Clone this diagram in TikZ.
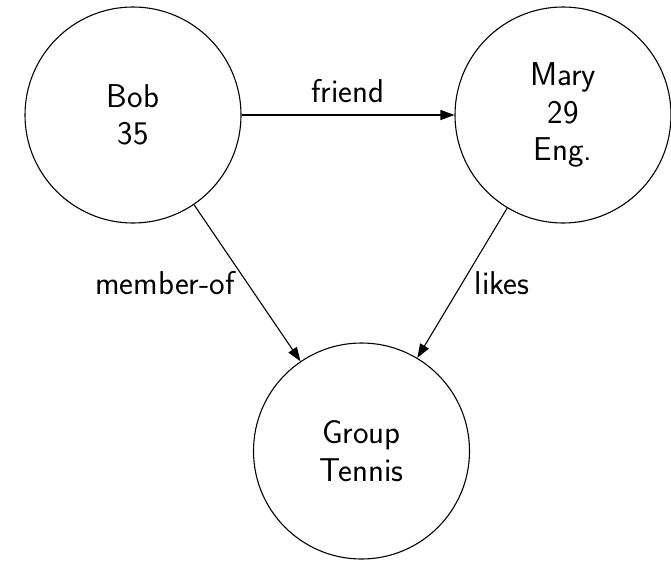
\documentclass[tikz,border=0pt]{standalone}
\usetikzlibrary{arrows.meta}
\begin{document}
\begin{tikzpicture}[x=1pt,y=-1pt,
  every node/.style={font=\sffamily\fontsize{33}{37.5}\selectfont},
  entity/.style={draw, circle, minimum size=216pt, inner sep=0pt, align=center, line width=1.1pt},
  rel/.style={line width=1.1pt, -{Triangle[length=14pt,width=10pt]}},
  lbl/.style={inner sep=12pt}]
  \useasboundingbox (0,0) rectangle (671,560);
  \node[entity] (bob) at (133,115) {Bob\\35};
  \node[entity] (mary) at (563,115) {Mary\\29\\Eng.};
  \node[entity] (group) at (361.5,451) {Group\\Tennis};
  \draw[rel] (bob) -- node[lbl, above] {friend} (mary);
  \draw[rel] (bob) -- node[lbl, left] {member-of} (group);
  \draw[rel] (mary) -- node[lbl, right] {likes} (group);
\end{tikzpicture}
\end{document}
